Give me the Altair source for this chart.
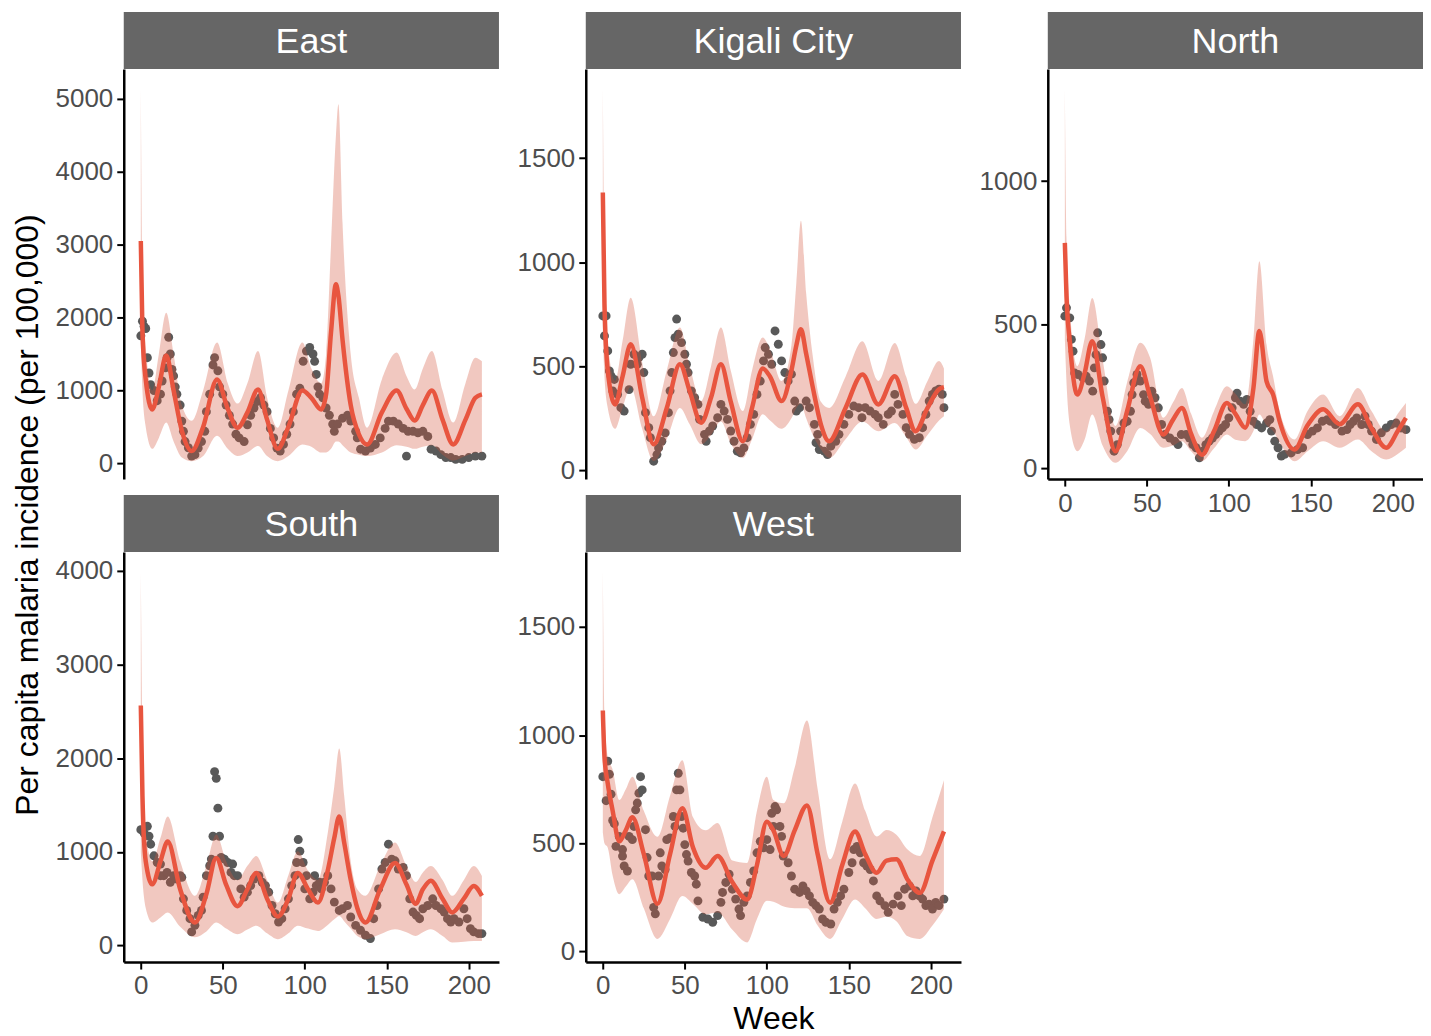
import altair as alt
import pandas as pd

# ---------------- data ----------------
WEEK_TICKS = [0, 50, 100, 150, 200]

# East
east_obs_week = [0, 1, 2, 3, 4, 5, 6, 8, 10, 12, 13, 15, 16, 17, 18, 19, 20, 21, 22, 24, 25, 26, 27, 29, 31, 33, 35, 37,
                 39, 40, 42, 44, 45, 47, 48, 50, 52, 54, 56, 58, 60, 63, 65, 67, 69, 71, 73, 75, 77, 79, 81, 83, 85, 87,
                 89, 91, 93, 95, 97, 99, 101, 103, 105, 106, 107, 108, 109, 111, 113, 115, 117, 118, 120, 123, 126, 128,
                 131, 132, 134, 137, 140, 143, 146, 149, 151, 154, 157, 160, 162, 163, 166, 169, 172, 175, 177, 180, 183,
                 186, 189, 192, 196, 200, 204, 208]
east_obs_val = [1750, 1950, 1880, 1850, 1450, 1240, 1080, 1000, 860, 950, 1130, 1310, 1450, 1730, 1500, 1290, 1200, 1050,
                950, 800, 580, 440, 300, 215, 100, 120, 210, 300, 440, 710, 950, 1350, 1450, 1270, 1050, 950, 800, 660,
                540, 400, 350, 300, 530, 660, 760, 850, 900, 800, 710, 480, 350, 210, 170, 260, 400, 540, 710, 950, 1030,
                1400, 1540, 1590, 1500, 1400, 1220, 1050, 950, 900, 760, 660, 540, 440, 540, 620, 660, 580, 440, 350,
                195, 170, 210, 260, 350, 480, 580, 580, 540, 480, 100, 440, 440, 420, 440, 370, 195, 170, 120, 80, 80,
                55, 55, 80, 100, 100]
east_fit_week = [0, 1, 3, 7, 11, 15.5, 20, 25, 31, 38, 46.5, 53, 59, 65, 71.5, 77, 83.5, 90, 98.5, 104, 110, 113, 116,
                 119, 120.5, 123, 128, 133, 138, 147, 156, 162, 167, 172, 177.5, 184, 190.5, 198, 204, 208]
east_fit_mid = [3050, 1800, 1150, 740, 1050, 1480, 1000, 450, 170, 500, 1150, 750, 490, 700, 1015, 600, 200, 500, 1000,
                900, 740, 950, 1800, 2456, 2300, 1700, 800, 400, 260, 700, 1000, 750, 590, 800, 1000, 600, 260, 600, 900,
                946]
east_fit_lo = [1700, 1000, 500, 200, 350, 560, 300, 80, 30, 100, 380, 200, 100, 150, 240, 100, 30, 100, 260, 230, 150,
               150, 200, 300, 300, 250, 150, 120, 100, 150, 250, 230, 200, 230, 250, 120, 40, 100, 150, 150]
east_fit_hi = [5130, 2600, 1600, 1000, 1500, 2066, 1500, 800, 585, 1000, 1657, 1100, 820, 1100, 1540, 900, 490, 1000,
               1657, 1300, 1100, 1500, 3000, 4500, 4925, 3300, 1500, 900, 490, 1150, 1520, 1200, 1015, 1300, 1540, 1000,
               560, 1100, 1450, 1400]

# Kigali City
kig_obs_week = [0, 1, 2, 3, 4, 5, 6, 7, 9, 11, 13, 16, 17, 19, 21, 22, 24, 25, 26, 28, 29, 31, 33, 34, 36, 38, 40, 41,
                42, 43, 44, 45, 46, 48, 50, 51, 52, 54, 56, 58, 59, 62, 63, 65, 67, 70, 72, 74, 76, 78, 80, 82, 84, 86,
                88, 90, 92, 94, 96, 98, 99, 101, 103, 105, 107, 109, 111, 113, 115, 117, 118, 120, 124, 126, 129, 130,
                131, 132, 135, 137, 139, 142, 144, 147, 150, 153, 156, 158, 160, 163, 166, 168, 171, 174, 176, 178, 180,
                183, 185, 187, 190, 193, 195, 197, 199, 201, 203, 205, 207, 208]
kig_obs_val = [742, 646, 742, 574, 478, 454, 382, 437, 365, 301, 285, 388, 510, 558, 510, 542, 558, 470, 277, 205, 157,
               44, 76, 108, 140, 180, 277, 382, 470, 566, 638, 727, 654, 614, 558, 510, 470, 382, 349, 317, 245, 173,
               140, 189, 213, 253, 317, 285, 245, 189, 140, 92, 84, 108, 157, 221, 269, 365, 429, 526, 590, 558, 510,
               670, 606, 526, 470, 430, 462, 333, 285, 301, 333, 301, 221, 133, 173, 100, 92, 76, 116, 140, 173, 221,
               269, 309, 301, 253, 301, 285, 269, 253, 221, 269, 285, 365, 317, 269, 205, 173, 149, 157, 205, 269, 333,
               365, 382, 390, 365, 301]
kig_fit_week = [0, 1, 3, 7.5, 12, 17, 24, 31, 39, 47, 53, 60, 66, 72, 78, 85.4, 91, 97.5, 102, 109, 115, 118, 120.8,
                124, 128, 133, 138, 148, 158.3, 168, 178, 185, 190.7, 198, 205, 208]
kig_fit_mid = [1335, 800, 480, 317, 450, 606, 350, 125, 300, 510, 380, 229, 350, 510, 330, 140, 300, 490, 450, 333, 480,
               600, 678, 560, 400, 220, 140, 300, 461, 317, 452, 300, 188, 300, 390, 400]
kig_fit_lo = [650, 450, 300, 200, 300, 400, 200, 45, 150, 300, 220, 125, 170, 235, 130, 60, 150, 270, 240, 200, 250, 300,
              320, 250, 170, 100, 60, 150, 235, 188, 228, 160, 100, 170, 240, 260]
kig_fit_hi = [1832, 1000, 620, 430, 620, 830, 520, 260, 480, 686, 500, 333, 500, 686, 480, 285, 480, 638, 580, 430, 600,
              900, 1199, 850, 550, 330, 300, 450, 620, 430, 612, 450, 320, 430, 525, 490]

# North
nor_obs_week = [0, 1, 3, 4, 5, 6, 8, 11, 13, 15, 17, 18, 19, 20, 22, 23, 24, 26, 27, 28, 30, 32, 34, 36, 38, 40, 41, 42,
                44, 46, 48, 49, 51, 53, 55, 57, 59, 61, 64, 67, 69, 71, 74, 76, 78, 80, 82, 84, 86, 88, 90, 92, 94, 96,
                98, 100, 102, 104, 105, 107, 109, 111, 113, 115, 117, 120, 123, 125, 126, 128, 130, 132, 134, 138, 142,
                145, 148, 151, 154, 157, 160, 162, 165, 169, 172, 174, 176, 178, 181, 183, 185, 187, 190, 193, 196, 199,
                202, 205, 208]
nor_obs_val = [530, 559, 524, 449, 408, 332, 327, 315, 321, 304, 269, 350, 396, 472, 431, 385, 304, 199, 170, 130, 60, 83,
               130, 158, 164, 199, 257, 298, 327, 304, 257, 234, 223, 269, 246, 211, 153, 118, 106, 95, 83, 118, 118,
               106, 83, 72, 37, 60, 83, 95, 106, 118, 130, 141, 153, 176, 211, 246, 262, 234, 223, 240, 199, 164, 153,
               141, 158, 170, 130, 95, 72, 43, 49, 54, 66, 72, 118, 130, 141, 164, 170, 164, 153, 130, 135, 153, 164,
               176, 153, 182, 153, 130, 101, 124, 141, 153, 158, 141, 135]
nor_fit_week = [0, 1, 3, 7.6, 12, 16.7, 23, 30.9, 38, 46, 52, 60, 66, 71.4, 77, 83.6, 91, 98.8, 104, 110, 115, 118.6,
                123, 127, 131, 140, 148, 157.5, 167.6, 178.7, 187, 196, 203, 208]
nor_fit_mid = [785, 600, 440, 257, 330, 443, 250, 60, 200, 356, 250, 118, 170, 210, 120, 48, 130, 228, 190, 142, 280,
               478, 303, 257, 164, 66, 150, 206, 154, 223, 140, 72, 130, 176]
nor_fit_lo = [450, 300, 150, 60, 100, 188, 80, 20, 60, 141, 120, 72, 80, 95, 60, 25, 70, 118, 100, 95, 130, 188, 150,
              130, 90, 25, 60, 95, 72, 101, 60, 31, 50, 72]
nor_fit_hi = [1319, 800, 560, 356, 450, 593, 380, 148, 300, 437, 385, 176, 230, 280, 190, 107, 200, 286, 260, 223, 450,
              721, 431, 320, 200, 101, 200, 257, 182, 280, 200, 129, 190, 228]

# South
sou_obs_week = [0, 2, 4, 5, 6, 8, 10, 12, 12, 14, 16, 18, 20, 22, 24, 25, 26, 28, 30, 31, 33, 35, 37, 38, 40, 42, 43, 44,
                45, 46, 47, 48, 49, 51, 53, 55, 56, 57, 59, 61, 63, 65, 67, 69, 72, 74, 76, 78, 80, 82, 84, 86, 88, 90,
                92, 94, 95, 96, 97, 99, 100, 101, 103, 105, 106, 107, 109, 110, 112, 114, 116, 118, 121, 123, 126, 128,
                131, 134, 137, 140, 142, 144, 145, 147, 149, 151, 153, 155, 157, 160, 162, 164, 166, 168, 170, 172, 175,
                178, 180, 183, 185, 187, 189, 191, 194, 197, 199, 201, 203, 206, 208]
sou_obs_val = [1236, 1201, 1272, 1166, 1081, 957, 886, 869, 745, 745, 780, 675, 745, 710, 745, 728, 498, 374, 286, 145,
               215, 321, 374, 516, 745, 851, 922, 1166, 1855, 1784, 1466, 1166, 939, 922, 886, 780, 869, 745, 745, 604,
               516, 569, 639, 710, 745, 675, 639, 569, 427, 339, 251, 286, 392, 498, 639, 745, 886, 1131, 1007, 886,
               604, 745, 498, 569, 745, 639, 675, 604, 675, 745, 604, 463, 374, 392, 427, 304, 215, 162, 109, 74, 286,
               427, 604, 816, 886, 1081, 922, 904, 816, 833, 745, 498, 357, 321, 286, 392, 427, 498, 427, 392, 357,
               286, 251, 286, 251, 392, 286, 180, 145, 127, 127]
sou_fit_week = [0, 1, 3, 7, 12, 16.4, 24, 33, 40, 46, 52, 59, 65, 70.4, 77, 83.6, 90, 95.7, 102, 108, 114, 118, 121,
                124, 128, 132, 137, 146, 155, 162, 167.6, 172, 176.8, 184, 189.9, 197, 203, 208]
sou_fit_mid = [2561, 1600, 900, 653, 900, 1110, 600, 245, 550, 935, 650, 420, 600, 775, 500, 310, 500, 775, 600, 459,
               800, 1150, 1378, 1100, 700, 400, 245, 600, 880, 650, 445, 600, 692, 500, 353, 500, 636, 530]
sou_fit_lo = [1000, 700, 400, 245, 300, 353, 200, 88, 150, 245, 180, 120, 170, 212, 130, 67, 130, 212, 180, 155, 220,
              280, 314, 260, 180, 100, 67, 120, 173, 140, 102, 140, 173, 100, 32, 40, 49, 49]
sou_fit_hi = [3975, 2300, 1200, 900, 1150, 1378, 900, 530, 850, 1184, 900, 700, 850, 954, 700, 459, 750, 1007, 800, 700,
              1200, 1700, 2102, 1600, 900, 600, 530, 850, 1100, 850, 678, 780, 848, 700, 530, 700, 848, 742]

# West
wes_obs_week = [0, 2, 3, 4, 5, 6, 7, 8, 10, 12, 12, 13, 15, 16, 18, 19, 20, 21, 22, 23, 24, 26, 27, 28, 30, 31, 32, 34,
                35, 36, 38, 39, 41, 43, 44, 45, 46, 47, 48, 49, 50, 51, 52, 54, 56, 57, 58, 61, 64, 67, 70, 72, 73, 75,
                77, 79, 81, 83, 84, 86, 88, 90, 92, 94, 96, 98, 100, 102, 103, 104, 105, 106, 108, 109, 110, 113, 115,
                117, 120, 122, 124, 126, 128, 130, 132, 134, 136, 139, 141, 143, 145, 147, 150, 152, 153, 155, 157, 159,
                161, 163, 165, 167, 169, 172, 174, 177, 180, 182, 184, 187, 189, 191, 193, 195, 197, 199, 201, 203, 205,
                208]
wes_obs_val = [808, 697, 880, 819, 727, 606, 591, 486, 532, 471, 441, 395, 372, 532, 517, 578, 655, 686, 732, 808, 747,
               563, 434, 349, 349, 204, 174, 349, 456, 395, 379, 517, 525, 624, 578, 747, 824, 747, 624, 570, 494, 448,
               418, 365, 349, 311, 234, 158, 150, 135, 166, 227, 273, 319, 357, 288, 242, 196, 166, 227, 257, 319, 372,
               456, 509, 479, 517, 471, 639, 578, 670, 655, 578, 532, 441, 410, 349, 288, 273, 303, 280, 257, 227, 212,
               196, 150, 135, 127, 196, 227, 257, 288, 365, 410, 471, 486, 456, 410, 395, 379, 326, 257, 234, 212, 181,
               219, 257, 212, 288, 303, 257, 280, 257, 242, 212, 219, 196, 227, 212, 242]
wes_fit_week = [0, 1, 3, 6, 10, 14, 18, 25, 33.3, 41, 48.5, 55, 62.7, 70, 79, 88, 94, 100, 104, 110.3, 117, 124.5, 131,
                138.6, 146, 153.8, 160, 167, 173, 179, 186, 193.3, 201, 208]
wes_fit_mid = [1114, 900, 777, 650, 509, 560, 620, 450, 220, 450, 662, 480, 387, 441, 320, 240, 400, 600, 560, 441, 560,
               675, 450, 225, 400, 555, 450, 364, 420, 426, 330, 271, 420, 555]
wes_fit_lo = [550, 500, 480, 350, 265, 300, 334, 200, 58, 150, 257, 220, 172, 180, 100, 42, 150, 234, 230, 208, 200, 200,
              120, 58, 150, 240, 200, 150, 160, 140, 70, 58, 120, 195]
wes_fit_hi = [1757, 1100, 900, 840, 700, 750, 808, 650, 530, 720, 884, 620, 560, 594, 420, 409, 650, 808, 700, 685, 850,
              1068, 750, 426, 600, 777, 650, 532, 562, 540, 470, 441, 620, 792]

# ---------------- styling ----------------
W, H = 376, 411
LINE_RED = "#E8553F"
BAND_RED = "#D4553C"
GRAY = "#595959"
FONT = "Liberation Sans"
X_DOMAIN = [-10.4, 218.4]


def panel(name, ow, ov, fw, fm, fl, fh, ydom, yticks, show_x, xtitle=None, ytitle=None):
    obs = pd.DataFrame({"week": ow, "value": ov})
    fit = pd.DataFrame({"week": fw, "mid": fm, "lo": fl, "hi": fh})
    xs = alt.Scale(domain=X_DOMAIN, nice=False, zero=False)
    ys = alt.Scale(domain=ydom, nice=False, zero=False)
    if show_x:
        xa = alt.Axis(values=WEEK_TICKS, format="d", title=xtitle if xtitle else None,
                      titleFontSize=32, titleColor="black", titleFont=FONT,
                      titleFontWeight="normal", titlePadding=5)
    else:
        xa = None
    ya = alt.Axis(values=yticks, format="d", title=None)
    xenc = alt.X("week:Q", scale=xs, axis=xa)
    pts = alt.Chart(obs).mark_circle(size=80, color=GRAY, opacity=1).encode(
        x=xenc, y=alt.Y("value:Q", scale=ys, axis=ya))
    band = alt.Chart(fit).mark_area(color=BAND_RED, opacity=0.32, interpolate="monotone").encode(
        x=xenc, y=alt.Y("lo:Q", scale=ys, axis=ya), y2="hi:Q")
    line = alt.Chart(fit).mark_line(color=LINE_RED, strokeWidth=4.5, interpolate="monotone").encode(
        x=xenc, y=alt.Y("mid:Q", scale=ys, axis=ya))
    lab = pd.DataFrame({"label": [name]})
    strip = alt.Chart(lab).mark_rect(color="#666666").encode(
        x=alt.value(0), x2=alt.value(W), y=alt.value(-57), y2=alt.value(0))
    strip_txt = alt.Chart(lab).mark_text(color="white", fontSize=36, font=FONT, align="center",
                                         baseline="middle").encode(
        x=alt.value(W / 2), y=alt.value(-27), text="label:N")
    layers = [pts, band, line, strip, strip_txt]
    if ytitle:
        tt = pd.DataFrame({"t": [ytitle]})
        layers.append(alt.Chart(tt).mark_text(color="black", fontSize=32, font=FONT, angle=270,
                                              align="center", baseline="middle").encode(
            x=alt.value(-96), y=alt.value(-37), text="t:N"))
    return alt.layer(*layers).properties(width=W, height=H)


p_east = panel("East", east_obs_week, east_obs_val, east_fit_week, east_fit_mid, east_fit_lo, east_fit_hi,
               [-215, 5409], [0, 1000, 2000, 3000, 4000, 5000], False)
p_kig = panel("Kigali City", kig_obs_week, kig_obs_val, kig_fit_week, kig_fit_mid, kig_fit_lo, kig_fit_hi,
              [-42, 1929], [0, 500, 1000, 1500], False)
p_nor = panel("North", nor_obs_week, nor_obs_val, nor_fit_week, nor_fit_mid, nor_fit_lo, nor_fit_hi,
              [-37, 1390], [0, 500, 1000], True)
p_sou = panel("South", sou_obs_week, sou_obs_val, sou_fit_week, sou_fit_mid, sou_fit_lo, sou_fit_hi,
              [-177, 4201], [0, 1000, 2000, 3000, 4000], True,
              ytitle="Per capita malaria incidence (per 100,000)")
p_wes = panel("West", wes_obs_week, wes_obs_val, wes_fit_week, wes_fit_mid, wes_fit_lo, wes_fit_hi,
              [-49, 1847], [0, 500, 1000, 1500], True, xtitle="Week")

chart = alt.concat(p_east, p_kig, p_nor, p_sou, p_wes, columns=3,
                   spacing={"row": 73, "column": 87}, bounds="flush").properties(
    padding={"left": 3, "top": 3, "right": 0, "bottom": 0}
).configure_view(stroke=None).configure_axis(
    grid=False, domainColor="black", domainWidth=2.5, tickColor="black", tickWidth=2, tickSize=7,
    labelFontSize=26, labelColor="#4D4D4D", labelFont=FONT, labelPadding=4, labelOverlap=False,
    labelFlush=False
)

chart.save("out.html", embed_options={"renderer": "svg", "actions": False})
